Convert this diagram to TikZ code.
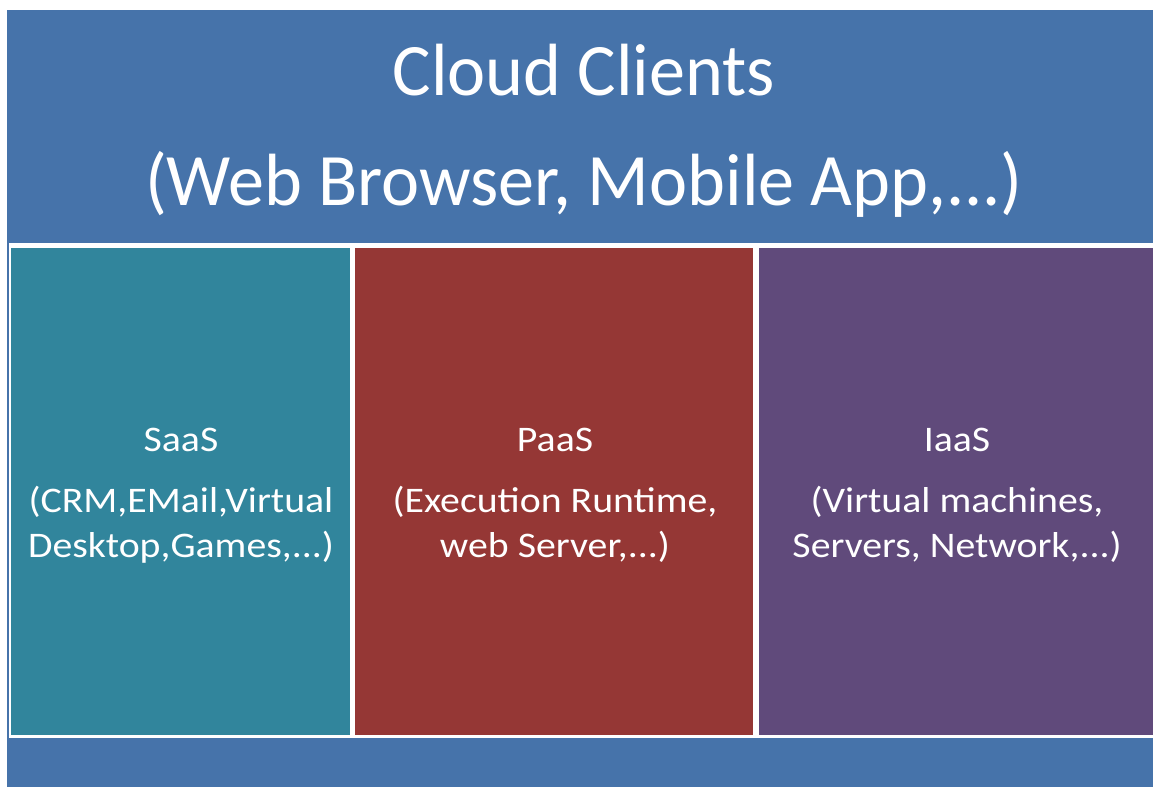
\documentclass[tikz,border=0pt]{standalone}
\usepackage{fontspec}
\setmainfont{Carlito}
\newfontfamily\headfont[FakeStretch=0.975]{Carlito}
\newfontfamily\labelfont[FakeStretch=1.105]{Carlito}
\definecolor{clientblue}{HTML}{4673AA}
\definecolor{saasteal}{HTML}{31859C}
\definecolor{paasred}{HTML}{953735}
\definecolor{iaaspurple}{HTML}{604A7B}
\tikzset{
  titletext/.style={text=white, inner sep=0pt, anchor=base, font=\headfont\fontsize{74}{90}\selectfont},
  boxtext/.style={text=white, inner sep=0pt, anchor=base, font=\labelfont\fontsize{36}{44}\selectfont},
}
\begin{document}
\begin{tikzpicture}[x=1pt, y=-1pt]
  % page frame
  \useasboundingbox (0,0) rectangle (1153,787);
  \fill[white] (0,0) rectangle (1153,787);

  % outer client band
  \fill[clientblue] (7,10) rectangle (1153,787);
  % white frame holding the three service boxes
  \fill[white] (9,243) rectangle (1153,738);

  % service boxes
  \fill[saasteal]   (11,248)  rectangle (350,735);
  \fill[paasred]    (355,248) rectangle (753,735);
  \fill[iaaspurple] (759,248) rectangle (1153,735);

  % client layer text
  \node[titletext] (clients)  at (584,95)  {Cloud Clients};
  \node[titletext] (examples) at (584,205) {(Web Browser, Mobile App,...)};

  % SaaS
  \node[boxtext] (saas)   at (181,451) {SaaS};
  \node[boxtext] (saas1)  at (181,512) {(CRM,EMail,Virtual};
  \node[boxtext] (saas2)  at (181,557) {Desktop,Games,...)};

  % PaaS
  \node[boxtext] (paas)   at (555,451) {PaaS};
  \node[boxtext] (paas1)  at (555,512) {(Execution Runtime,};
  \node[boxtext] (paas2)  at (555,557) {web Server,...)};

  % IaaS
  \node[boxtext] (iaas)   at (957,451) {IaaS};
  \node[boxtext] (iaas1)  at (957,512) {(Virtual machines,};
  \node[boxtext] (iaas2)  at (957,557) {Servers, Network,...)};
\end{tikzpicture}
\end{document}
